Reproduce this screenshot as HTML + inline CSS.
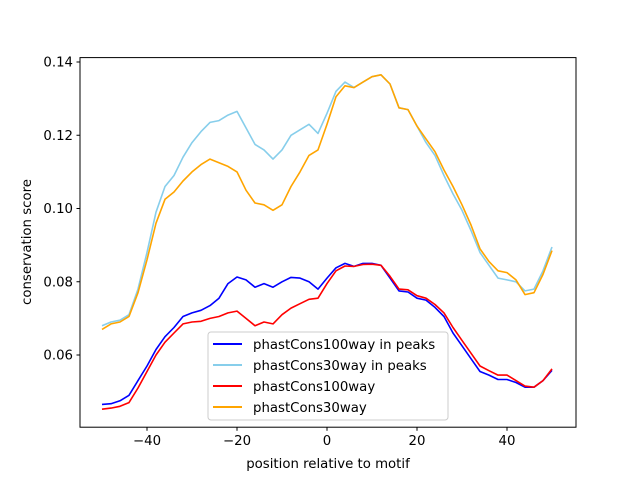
<!DOCTYPE html>
<html><head><meta charset="utf-8"><style>
body{margin:0;background:#fff}
svg text{font-family:"DejaVu Sans","Liberation Sans",sans-serif;fill:#000}
</style></head><body>
<svg width="640" height="480" viewBox="0 0 640 480">
<rect width="640" height="480" fill="#fff"/>
<g id="lines"></g>
<rect x="80" y="57.6" width="496" height="369.6" fill="none" stroke="#000" stroke-width="1"/>
<g id="axes"></g>
<text x="328" y="468" font-size="13.3" text-anchor="middle">position relative to motif</text>
<text transform="translate(31,242) rotate(-90)" font-size="13.3" text-anchor="middle">conservation score</text>
<g id="legend">
<rect x="208" y="332" width="240" height="88" rx="3" fill="#fff" fill-opacity="0.8" stroke="#ccc"/>
</g>
</svg>
<script>
const positions=[];for(let v=-50;v<=50;v+=2)positions.push(v);
const series100Peaks=[0.0465,0.0467,0.0475,0.049,0.053,0.057,0.0615,0.065,0.0675,0.0705,0.0715,0.0722,0.0735,0.0755,0.0795,0.0813,0.0805,0.0785,0.0795,0.0785,0.080,0.0812,0.081,0.080,0.078,0.081,0.0838,0.085,0.0842,0.085,0.085,0.0845,0.081,0.0775,0.0772,0.0755,0.075,0.073,0.0705,0.066,0.0625,0.059,0.0555,0.0545,0.0533,0.0533,0.0525,0.0512,0.0512,0.053,0.0558];
const series30Peaks=[0.068,0.069,0.0695,0.071,0.078,0.088,0.099,0.106,0.109,0.114,0.118,0.121,0.1235,0.124,0.1255,0.1265,0.122,0.1175,0.116,0.1135,0.116,0.120,0.1215,0.123,0.1205,0.126,0.132,0.1345,0.133,0.1345,0.136,0.1365,0.134,0.1275,0.127,0.1225,0.118,0.1145,0.109,0.104,0.0995,0.094,0.088,0.0845,0.081,0.0805,0.080,0.0775,0.078,0.083,0.0895];
const series100=[0.0452,0.0455,0.046,0.047,0.051,0.0555,0.060,0.0635,0.066,0.0685,0.069,0.0692,0.070,0.0705,0.0715,0.072,0.070,0.068,0.069,0.0685,0.071,0.0728,0.074,0.0752,0.0755,0.0795,0.083,0.0843,0.0842,0.0847,0.0848,0.0845,0.0815,0.078,0.0778,0.0762,0.0755,0.0738,0.0715,0.0675,0.064,0.0605,0.057,0.0557,0.0545,0.0545,0.053,0.0515,0.0512,0.053,0.0562];
const series30=[0.067,0.0685,0.069,0.0705,0.077,0.086,0.096,0.1025,0.1045,0.1075,0.110,0.112,0.1135,0.1125,0.1115,0.110,0.105,0.1015,0.101,0.0995,0.101,0.106,0.110,0.1145,0.116,0.123,0.1305,0.1335,0.133,0.1345,0.136,0.1365,0.134,0.1275,0.127,0.1225,0.119,0.1155,0.1105,0.106,0.101,0.0955,0.089,0.0855,0.083,0.0825,0.0805,0.0765,0.077,0.082,0.0885];
const xTicks=[-40,-20,0,20,40];
const yTicks=[0.06,0.08,0.10,0.12,0.14];
const yTickLabels=["0.06","0.08","0.10","0.12","0.14"];
const legendLabels=["phastCons100way in peaks","phastCons30way in peaks","phastCons100way","phastCons30way"];
const NS="http://www.w3.org/2000/svg";
const X=v=>327+4.5*v;
const Y=v=>62+(0.14-v)*3662.5;
const lg=document.getElementById('lines');
const defs=[[series30Peaks,'#87ceeb','line-phastcons30way-in-peaks'],[series30,'#ffa500','line-phastcons30way'],[series100Peaks,'#0000ff','line-phastcons100way-in-peaks'],[series100,'#ff0000','line-phastcons100way']];
defs.forEach(([d,c,n])=>{
 const p=document.createElementNS(NS,'polyline');
 p.setAttribute('points',d.map((v,i)=>X(positions[i]).toFixed(1)+','+Y(v).toFixed(1)).join(' '));
 p.setAttribute('fill','none');p.setAttribute('stroke',c);p.setAttribute('stroke-width','1.6');p.setAttribute('stroke-linejoin','round');
 
 
 lg.appendChild(p);
});
const ax=document.getElementById('axes');
xTicks.forEach(t=>{
 const l=document.createElementNS(NS,'line');
 l.setAttribute('x1',X(t));l.setAttribute('x2',X(t));l.setAttribute('y1',427.2);l.setAttribute('y2',430.7);l.setAttribute('stroke','#000');
 
 
 ax.appendChild(l);
 const tx=document.createElementNS(NS,'text');
 tx.setAttribute('x',X(t));tx.setAttribute('y',445);tx.setAttribute('font-size','13.3');tx.setAttribute('text-anchor','middle');
 tx.textContent=(t<0?'\u2212'+(-t):String(t));
 
 
 ax.appendChild(tx);
});
yTicks.forEach((t,i)=>{
 const l=document.createElementNS(NS,'line');
 l.setAttribute('x1',76.5);l.setAttribute('x2',80);l.setAttribute('y1',Y(t));l.setAttribute('y2',Y(t));l.setAttribute('stroke','#000');
 
 
 ax.appendChild(l);
 const tx=document.createElementNS(NS,'text');
 tx.setAttribute('x',73);tx.setAttribute('y',Y(t)+4.5);tx.setAttribute('font-size','13.3');tx.setAttribute('text-anchor','end');
 tx.textContent=yTickLabels[i];
 
 
 ax.appendChild(tx);
});
const leg=document.getElementById('legend');
const legColors=['#0000ff','#87ceeb','#ff0000','#ffa500'];
legendLabels.forEach((s,i)=>{
 const y=344+i*21;
 const l=document.createElementNS(NS,'line');
 l.setAttribute('x1',213);l.setAttribute('x2',242);l.setAttribute('y1',y);l.setAttribute('y2',y);l.setAttribute('stroke',legColors[i]);l.setAttribute('stroke-width','2');
 
 
 leg.appendChild(l);
 const tx=document.createElementNS(NS,'text');
 tx.setAttribute('x',253);tx.setAttribute('y',y+5);tx.setAttribute('font-size','13.3');
 tx.textContent=s;
 
 
 leg.appendChild(tx);
});
</script>
</body></html>
